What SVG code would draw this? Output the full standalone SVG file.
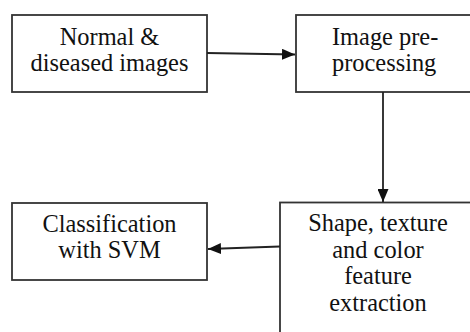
<svg xmlns="http://www.w3.org/2000/svg" width="470" height="332" viewBox="0 0 470 332">
<defs>
<style>
.box{fill:#fff;stroke:#333;stroke-width:1.8}
text{font-family:'Liberation Serif','Times New Roman',serif;font-size:24.4px;fill:#111;text-anchor:middle}
.ln{stroke:#222;stroke-width:1.8;fill:none}
</style>
<marker id="ah" viewBox="0 0 13 11" refX="13" refY="5.5" markerWidth="13" markerHeight="11" markerUnits="userSpaceOnUse" orient="auto">
<path d="M0,0 L13,5.5 L0,11 Z" fill="#111"/>
</marker>
</defs>
<rect width="470" height="332" fill="#fff"/>
<g id="n1">
<rect class="box" x="12" y="15" width="195" height="77"/>
<text x="109.5" y="45">Normal &amp;</text>
<text x="109.5" y="71">diseased images</text>
</g>
<g id="n2">
<rect class="box" x="296" y="15" width="190" height="77"/>
<text x="332" y="45" style="text-anchor:start">Image pre-</text>
<text x="332" y="71" style="text-anchor:start">processing</text>
</g>
<g id="n3">
<rect class="box" x="280" y="202.5" width="210" height="150"/>
<text x="378" y="231">Shape, texture</text>
<text x="378" y="258">and color</text>
<text x="378" y="284">feature</text>
<text x="378" y="311">extraction</text>
</g>
<g id="n4">
<rect class="box" x="12" y="203" width="195" height="77"/>
<text x="109.5" y="232">Classification</text>
<text x="109.5" y="258">with SVM</text>
</g>
<g id="connectors">
<line class="ln" x1="207" y1="53" x2="295" y2="54.5" marker-end="url(#ah)"/>
<line class="ln" x1="383" y1="92" x2="383" y2="202" marker-end="url(#ah)"/>
<line class="ln" x1="280" y1="246.5" x2="208" y2="249" marker-end="url(#ah)"/>
</g>
</svg>
